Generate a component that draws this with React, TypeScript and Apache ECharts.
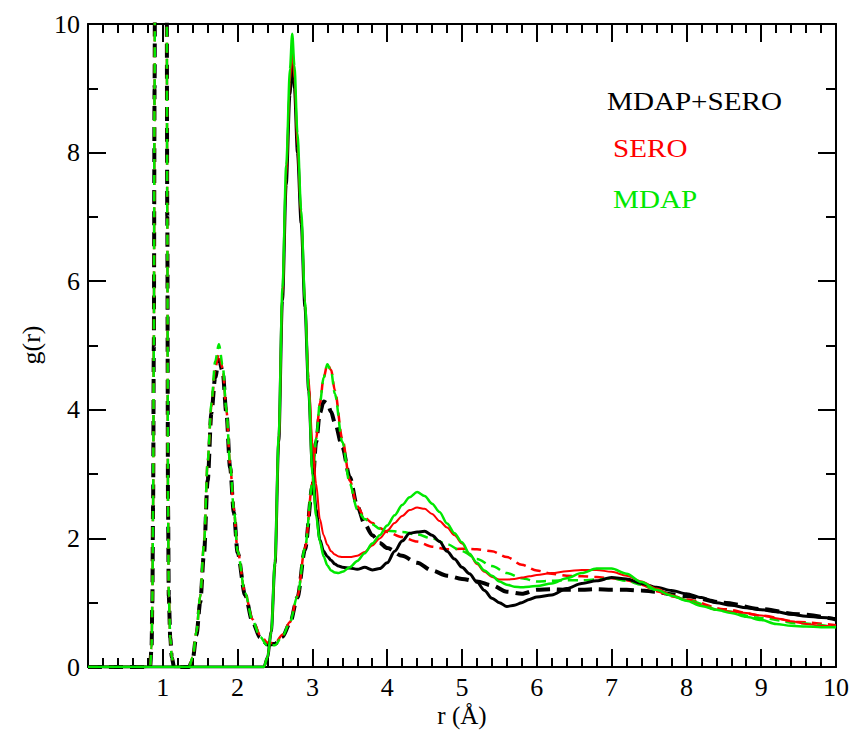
import React, { useEffect, useRef } from "react";
import * as echarts from "echarts";

const FONT = "'Liberation Serif', 'Times New Roman', serif";

// r grid for the solid curves
const rSolid = [0, 2.35, 2.4, 2.45, 2.5, 2.55, 2.6, 2.65, 2.7, 2.73, 2.76, 2.8, 2.85, 2.9, 2.95, 3.0, 3.05, 3.1, 3.15, 3.2, 3.25, 3.3, 3.35,
  3.4, 3.5, 3.6, 3.7, 3.8, 3.9, 4.0, 4.1, 4.2, 4.3, 4.4, 4.5, 4.6, 4.7, 4.8, 4.9, 5.0, 5.1, 5.2, 5.3, 5.4, 5.5, 5.6, 5.7, 5.8, 5.9, 6.0,
  6.2, 6.4, 6.6, 6.8, 7.0, 7.2, 7.4, 7.6, 7.8, 8.0, 8.2, 8.4, 8.6, 8.8, 9.0, 9.2, 9.4, 9.6, 9.8, 10.0];

const gSolidBlack = [0, 0, 0.15, 0.55, 1.6, 3.5, 5.7, 7.5, 8.9, 9.45, 9.0, 8.0, 6.9, 5.6, 4.3, 3.1, 2.45, 1.98, 1.8, 1.72, 1.66, 1.6, 1.57,
  1.55, 1.54, 1.52, 1.55, 1.51, 1.53, 1.62, 1.8, 1.96, 2.08, 2.1, 2.11, 2.05, 1.95, 1.8, 1.68, 1.55, 1.45, 1.32, 1.19, 1.07, 1.0, 0.94, 0.96, 1.0, 1.05, 1.09,
  1.12, 1.22, 1.3, 1.34, 1.39, 1.37, 1.3, 1.24, 1.19, 1.14, 1.08, 1.0, 0.96, 0.92, 0.89, 0.86, 0.82, 0.79, 0.77, 0.75];

const gSolidRed = [0, 0, 0.15, 0.55, 1.6, 3.5, 5.8, 7.6, 9.1, 9.6, 9.15, 8.1, 7.0, 5.7, 4.5, 3.5, 2.85, 2.3, 2.05, 1.9, 1.8, 1.75, 1.72,
  1.71, 1.71, 1.73, 1.79, 1.89, 2.0, 2.12, 2.24, 2.35, 2.44, 2.48, 2.46, 2.38, 2.27, 2.17, 2.05, 1.92, 1.76, 1.6, 1.48, 1.4, 1.36, 1.36, 1.37, 1.39, 1.41, 1.43,
  1.46, 1.49, 1.51, 1.51, 1.48, 1.42, 1.33, 1.22, 1.12, 1.04, 0.96, 0.89, 0.86, 0.84, 0.8, 0.76, 0.71, 0.67, 0.64, 0.62];

const gSolidGreen = [0, 0, 0.15, 0.55, 1.65, 3.6, 5.9, 7.8, 9.3, 9.85, 9.35, 8.3, 7.1, 5.7, 4.3, 3.0, 2.35, 1.95, 1.72, 1.58, 1.5, 1.47, 1.46,
  1.48, 1.55, 1.65, 1.77, 1.92, 2.05, 2.2, 2.36, 2.52, 2.64, 2.72, 2.66, 2.54, 2.41, 2.23, 2.08, 1.94, 1.76, 1.62, 1.5, 1.42, 1.33, 1.28, 1.25, 1.24, 1.25, 1.26,
  1.3, 1.38, 1.46, 1.53, 1.53, 1.45, 1.32, 1.2, 1.11, 1.03, 0.95, 0.89, 0.84, 0.78, 0.73, 0.67, 0.64, 0.63, 0.62, 0.62];

// r grid for the dashed curves
const rDashed = [0, 0.83, 0.85, 0.86, 0.87, 0.88, 0.89, 0.9, 0.97, 1.05, 1.06, 1.07, 1.08, 1.1, 1.12, 1.15,
  1.35, 1.4, 1.45, 1.5, 1.55, 1.6, 1.65, 1.7, 1.75, 1.8, 1.85, 1.9, 1.95, 2.0,
  2.1, 2.2, 2.3, 2.4, 2.5, 2.6, 2.7, 2.8, 2.9, 3.0, 3.05, 3.1, 3.15, 3.2, 3.25, 3.3,
  3.4, 3.5, 3.6, 3.7, 3.8, 3.9, 4.0, 4.2, 4.4, 4.6, 4.8, 5.0, 5.2, 5.4, 5.6, 5.8, 6.0, 6.2, 6.4, 6.6, 6.8, 7.0,
  7.2, 7.4, 7.6, 7.8, 8.0, 8.5, 9.0, 9.5, 10];

const gDashedBlack = [0, 0, 0.3, 1.0, 2.5, 5, 9, 13, 30, 12, 7, 2.5, 1.1, 0.45, 0.15, 0,
  0, 0.12, 0.5, 1.0, 1.75, 2.9, 3.95, 4.5, 4.78, 4.6, 3.95, 3.1, 2.4, 1.78,
  1.12, 0.7, 0.46, 0.35, 0.36, 0.47, 0.68, 1.08, 1.82, 2.8, 3.5, 3.95, 4.13, 4.1, 3.97, 3.8,
  3.42, 2.95, 2.5, 2.22, 2.05, 1.93, 1.85, 1.73, 1.62, 1.5, 1.42, 1.37, 1.33, 1.27, 1.17, 1.14, 1.2, 1.21, 1.2, 1.2, 1.21, 1.2,
  1.2, 1.19, 1.17, 1.13, 1.1, 1.0, 0.9, 0.82, 0.74];

const gDashedRed = [0, 0, 0.3, 1.0, 2.5, 5, 9, 13, 30, 12, 7, 2.5, 1.1, 0.45, 0.15, 0,
  0, 0.15, 0.55, 1.1, 1.9, 3.2, 4.05, 4.65, 4.87, 4.65, 4.0, 3.15, 2.45, 1.8,
  1.15, 0.74, 0.5, 0.38, 0.37, 0.5, 0.7, 1.1, 1.85, 2.85, 3.55, 4.1, 4.5, 4.71, 4.62, 4.3,
  3.55, 2.9, 2.5, 2.32, 2.24, 2.16, 2.1, 2.02, 1.95, 1.87, 1.83, 1.84, 1.83, 1.8, 1.71, 1.59, 1.5, 1.45, 1.42, 1.41, 1.4, 1.38,
  1.35, 1.28, 1.18, 1.1, 1.05, 0.9, 0.8, 0.7, 0.65];

const gDashedGreen = [0, 0, 0.3, 1.0, 2.5, 5, 9, 13, 30, 12, 7, 2.5, 1.1, 0.45, 0.15, 0,
  0, 0.15, 0.55, 1.1, 1.9, 3.2, 4.1, 4.75, 5.02, 4.7, 4.0, 3.15, 2.45, 1.8,
  1.15, 0.72, 0.47, 0.33, 0.34, 0.48, 0.7, 1.1, 1.85, 2.85, 3.55, 4.1, 4.5, 4.71, 4.6, 4.25,
  3.5, 2.85, 2.45, 2.3, 2.22, 2.15, 2.12, 2.1, 2.06, 2.0, 1.91, 1.8, 1.68, 1.57, 1.46, 1.38, 1.33, 1.34, 1.35, 1.35, 1.36, 1.38,
  1.34, 1.28, 1.2, 1.12, 1.04, 0.87, 0.76, 0.68, 0.62];

const legendLabels = ["MDAP+SERO", "SERO", "MDAP"];
const BLACK = "#000000";
const RED = "#ff0000";
const GREEN = "#00e800";

function makeLine(name: string, r: number[], g: number[], color: string, width: number, dash: number[] | null, z: number) {
  return {
    type: "line",
    name,
    data: r.map((x, i) => [x, g[i]]),
    showSymbol: false,
    symbol: "none",
    smooth: 0.3,
    smoothMonotone: "x",
    clip: true,
    z,
    lineStyle: { color, width, type: dash ? dash : "solid" },
  };
}

export default function App() {
  const ref = useRef<HTMLDivElement>(null);
  useEffect(() => {
    if (!ref.current) return;
    document.body.style.margin = "0";
    const chart = echarts.init(ref.current, undefined, { renderer: "svg" });
    const axisCommon = {
      type: "value",
      axisLine: { show: true, onZero: false, lineStyle: { color: "#000", width: 2 } },
      axisTick: { show: true, inside: true, length: 18, lineStyle: { color: "#000", width: 2 } },
      splitLine: { show: false },
    };
    const option = {
      animation: false,
      backgroundColor: "#ffffff",
      grid: { left: 88, right: 17, top: 24, bottom: 64 },
      xAxis: [
        {
          ...axisCommon,
          min: 0, max: 10, interval: 1, position: "bottom",
          minorTick: { show: true, splitNumber: 5, length: 9, lineStyle: { color: "#000", width: 2 } },
          axisLabel: {
            margin: 7, fontFamily: FONT, fontSize: 26, lineHeight: 26, color: "#000",
            formatter: (v: number) => (v === 0 ? "" : String(v)),
          },
        },
        {
          ...axisCommon,
          min: 0, max: 10, interval: 1, position: "top",
          minorTick: { show: true, splitNumber: 5, length: 9, lineStyle: { color: "#000", width: 2 } },
          axisLabel: { show: false },
        },
      ],
      yAxis: [
        {
          ...axisCommon,
          min: 0, max: 10, interval: 2, position: "left",
          minorTick: { show: true, splitNumber: 2, length: 10, lineStyle: { color: "#000", width: 2 } },
          axisLabel: { margin: 8, fontFamily: FONT, fontSize: 26, color: "#000" },
        },
        {
          ...axisCommon,
          min: 0, max: 10, interval: 2, position: "right",
          minorTick: { show: true, splitNumber: 2, length: 10, lineStyle: { color: "#000", width: 2 } },
          axisLabel: { show: false },
        },
      ],
      series: [
        makeLine("MDAP+SERO dashed", rDashed, gDashedBlack, BLACK, 4, [14, 7], 2),
        makeLine("SERO dashed", rDashed, gDashedRed, RED, 2.5, [10, 6], 3),
        makeLine("MDAP dashed", rDashed, gDashedGreen, GREEN, 2.5, [10, 6], 4),
        makeLine("MDAP+SERO", rSolid, gSolidBlack, BLACK, 3, null, 5),
        makeLine("SERO", rSolid, gSolidRed, RED, 2, null, 6),
        makeLine("MDAP", rSolid, gSolidGreen, GREEN, 2.5, null, 7),
      ],
      graphic: [
        { type: "text", left: 607, top: 88, scaleX: 1.12, style: { text: legendLabels[0], fill: BLACK, font: `26px ${FONT}` } },
        { type: "text", left: 613, top: 135, scaleX: 1.12, style: { text: legendLabels[1], fill: RED, font: `26px ${FONT}` } },
        { type: "text", left: 613, top: 186, scaleX: 1.12, style: { text: legendLabels[2], fill: GREEN, font: `26px ${FONT}` } },
        { type: "text", x: 31, y: 345, rotation: Math.PI / 2, style: { text: "g(r)", fill: "#000", font: `26px ${FONT}`, align: "center", verticalAlign: "middle" } },
        { type: "text", x: 462, y: 715, style: { text: "r (Å)", fill: "#000", font: `25px ${FONT}`, lineHeight: 25, align: "center", verticalAlign: "middle" } },
      ],
    };
    chart.setOption(option as any);
    return () => chart.dispose();
  }, []);
  return <div ref={ref} style={{ width: 853, height: 731 }} />;
}
